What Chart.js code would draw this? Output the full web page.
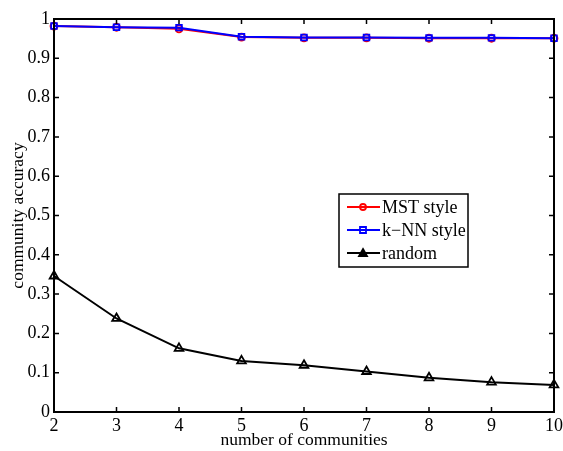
<!DOCTYPE html>
<html>
<head>
<meta charset="utf-8">
<script src="https://cdn.jsdelivr.net/npm/chart.js@4.4.1/dist/chart.umd.min.js"></script>
<style>
  html, body { margin: 0; padding: 0; background: #fff; }
  #wrap { width: 563px; height: 451px; }
</style>
</head>
<body>
<div id="wrap"><canvas id="chart" width="563" height="451"></canvas></div>
<script>
const communities = [2, 3, 4, 5, 6, 7, 8, 9, 10];
const mstStyle = [0.982, 0.979, 0.975, 0.954, 0.952, 0.952, 0.951, 0.951, 0.951];
const knnStyle = [0.982, 0.979, 0.978, 0.955, 0.953, 0.953, 0.952, 0.952, 0.951];
const randomAcc = [0.346, 0.238, 0.162, 0.130, 0.119, 0.103, 0.087, 0.076, 0.069];
const yTicks = [0, 0.1, 0.2, 0.3, 0.4, 0.5, 0.6, 0.7, 0.8, 0.9, 1];

const FONT = '"Liberation Serif", "Times New Roman", serif';

function toPoints(vals) {
  return communities.map((c, i) => ({ x: c, y: vals[i] }));
}

// box around plot + inward ticks on all four sides (matlab look)
const boxPlugin = {
  id: 'box',
  afterDraw(chart) {
    const { ctx, chartArea: a, scales } = chart;
    ctx.save();
    ctx.strokeStyle = '#000';
    ctx.lineWidth = 2;
    ctx.strokeRect(a.left, a.top, a.right - a.left, a.bottom - a.top);
    ctx.lineWidth = 1.5;
    const len = 5;
    ctx.beginPath();
    communities.forEach(c => {
      const x = scales.x.getPixelForValue(c);
      ctx.moveTo(x, a.bottom); ctx.lineTo(x, a.bottom - len);
      ctx.moveTo(x, a.top); ctx.lineTo(x, a.top + len);
    });
    yTicks.forEach(v => {
      const y = scales.y.getPixelForValue(v);
      ctx.moveTo(a.left, y); ctx.lineTo(a.left + len, y);
      ctx.moveTo(a.right, y); ctx.lineTo(a.right - len, y);
    });
    ctx.stroke();
    ctx.restore();
  }
};

// legend box inside the plot area
const legendBox = {
  id: 'legendBox',
  afterDraw(chart) {
    const { ctx } = chart;
    const x0 = 339, y0 = 194, w = 129, h = 73;
    ctx.save();
    ctx.fillStyle = '#fff';
    ctx.fillRect(x0, y0, w, h);
    ctx.strokeStyle = '#000';
    ctx.lineWidth = 1.5;
    ctx.strokeRect(x0, y0, w, h);
    ctx.font = '18px ' + FONT;
    ctx.textBaseline = 'middle';
    chart.data.datasets.forEach((ds, i) => {
      const y = y0 + 13 + i * 23;
      ctx.strokeStyle = ds.borderColor;
      ctx.lineWidth = 2;
      ctx.beginPath();
      ctx.moveTo(x0 + 8, y); ctx.lineTo(x0 + 41, y);
      ctx.stroke();
      const mx = x0 + 24;
      ctx.lineWidth = 1.8;
      ctx.beginPath();
      if (ds.pointStyle === 'circle') {
        ctx.arc(mx, y, 3, 0, Math.PI * 2);
      } else if (ds.pointStyle === 'rect') {
        ctx.rect(mx - 3, y - 3, 6, 6);
      } else {
        ctx.moveTo(mx, y - 4); ctx.lineTo(mx + 4, y + 3); ctx.lineTo(mx - 4, y + 3); ctx.closePath();
        ctx.fillStyle = '#000';
        ctx.fill();
      }
      ctx.stroke();
      ctx.fillStyle = '#000';
      ctx.fillText(ds.label, x0 + 43, y + 1);
    });
    ctx.restore();
  }
};

new Chart(document.getElementById('chart'), {
  type: 'line',
  data: {
    datasets: [
      {
        label: 'MST style',
        data: toPoints(mstStyle),
        order: 1,
        borderColor: '#ff0000',
        borderWidth: 2,
        pointStyle: 'circle',
        pointRadius: 3.5,
        pointBorderWidth: 1.8,
        pointBackgroundColor: 'rgba(0,0,0,0)',
        pointBorderColor: '#ff0000'
      },
      {
        label: 'k\u2212NN style',
        data: toPoints(knnStyle),
        order: 0,
        borderColor: '#0000ff',
        borderWidth: 2,
        pointStyle: 'rect',
        pointRadius: 4,
        pointBorderWidth: 1.8,
        pointBackgroundColor: 'rgba(0,0,0,0)',
        pointBorderColor: '#0000ff'
      },
      {
        label: 'random',
        data: toPoints(randomAcc),
        order: 2,
        borderColor: '#000000',
        borderWidth: 2,
        pointStyle: 'triangle',
        pointRadius: 5,
        pointBorderWidth: 1.8,
        pointBackgroundColor: 'rgba(0,0,0,0)',
        pointBorderColor: '#000000'
      }
    ]
  },
  options: {
    responsive: false,
    animation: false,
    clip: false,
    layout: { padding: { top: 19, right: 9, left: 0, bottom: 0 } },
    plugins: {
      legend: { display: false },
      tooltip: { enabled: false }
    },
    scales: {
      x: {
        type: 'linear',
        min: 2,
        max: 10,
        afterBuildTicks(scale) { scale.ticks = communities.map(v => ({ value: v })); },
        afterFit(scale) {
          scale.height = 39;
          scale.paddingRight = 0;
          scale.paddingLeft = 0;
        },
        grid: { display: false, drawTicks: false, tickLength: 0 },
        border: { display: true, color: '#000', width: 2 },
        ticks: {
          color: '#000',
          font: { family: FONT, size: 18 },
          padding: 3,
          maxRotation: 0
        },
        title: {
          display: true,
          text: 'number of communities',
          color: '#000',
          font: { family: FONT, size: 17.5 },
          padding: { top: 0, bottom: 0 }
        }
      },
      y: {
        type: 'linear',
        min: 0,
        max: 1,
        afterBuildTicks(scale) { scale.ticks = yTicks.map(v => ({ value: v })); },
        afterFit(scale) { scale.width = 54; },
        grid: { display: false, drawTicks: false, tickLength: 0 },
        border: { display: true, color: '#000', width: 2 },
        ticks: {
          color: '#000',
          font: { family: FONT, size: 18 },
          padding: 4,
          callback: v => String(Math.round(v * 10) / 10)
        },
        title: {
          display: true,
          text: 'community accuracy',
          color: '#000',
          font: { family: FONT, size: 17.5 },
          padding: { top: 8, bottom: 0 }
        }
      }
    }
  },
  plugins: [boxPlugin, legendBox]
});
</script>
</body>
</html>
